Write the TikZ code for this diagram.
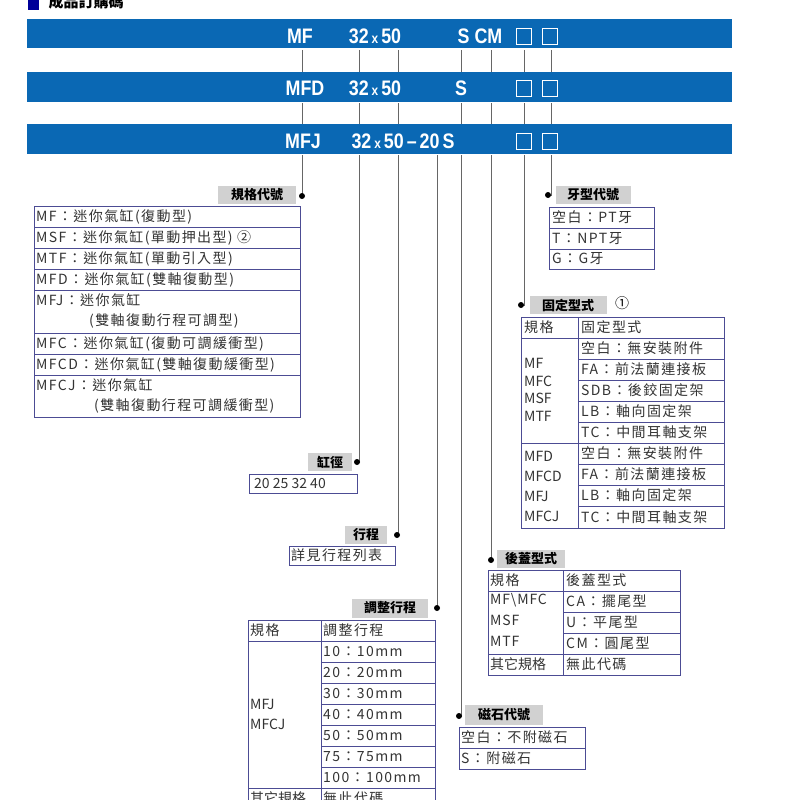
\documentclass[tikz,border=0pt]{standalone}
\usepackage{fontspec}
\setmainfont{Noto Sans CJK TC}
\setsansfont{Liberation Sans}
\begin{document}
\begin{tikzpicture}[x=1pt,y=-1pt,
  ln/.style={draw=black!60,line width=0.9pt},
  lbl/.style={fill=black!18,inner sep=1pt,font=\bfseries\fontsize{13}{13}\selectfont,anchor=center},
  cell/.style={draw=blue!40!black!70,line width=0.8pt},
  tx/.style={font=\fontsize{14}{14}\selectfont\addfontfeatures{LetterSpace=10},text=black!80,anchor=west,inner sep=1pt,align=left},
  bt/.style={font=\sffamily\bfseries\fontsize{21}{21}\selectfont,text=white,anchor=center,inner sep=0pt,xscale=0.85},
  dotc/.style={circle,fill=black,inner sep=0pt,minimum size=6pt}]
\definecolor{barc}{HTML}{0A68B4}
\useasboundingbox (0,0) rectangle (800,800);
\fill[blue!60!black] (28,-2) rectangle (39,10);
\node[anchor=west,font=\bfseries\fontsize{15}{15}\selectfont] (title) at (45,2) {成品訂購碼};
% bars
\foreach \ya/\yb in {19/49,72/102,124/154}{\fill[barc] (27,\ya) rectangle (732,\yb); \draw[white,line width=1pt] (27,\yb) -- (732,\yb);}
\node[bt] (t1a) at (300,36) {MF};
\node[bt] (t1b) at (375,36) {32\,{\fontsize{14}{14}\selectfont x}\,50};
\node[bt] (t1c) at (480,36) {S CM};
\node[bt] (t2a) at (305,88) {MFD};
\node[bt] (t2b) at (375,88) {32\,{\fontsize{14}{14}\selectfont x}\,50};
\node[bt] (t2c) at (461,88) {S};
\node[bt] (t3a) at (303,141) {MFJ};
\node[bt] (t3b) at (403,141) {32\,{\fontsize{14}{14}\selectfont x}\,50\,--\,20\,S};
\foreach \y in {36,88,141}{\draw[white,line width=0.7pt] (516,\y-8) rectangle (531,\y+8); \draw[white,line width=0.7pt] (542,\y-8) rectangle (557,\y+8);}
% connectors between bars
\foreach \x in {302,359,398,461,491,524,551}{\draw[ln] (\x,50) -- (\x,72); \draw[ln] (\x,103) -- (\x,124);}
% below bar3
\coordinate (c1) at (302,196); \coordinate (c2) at (357,462); \coordinate (c3) at (397,535);
\coordinate (c4) at (437,608); \coordinate (c5) at (459,716); \coordinate (c6) at (491,560);
\coordinate (c7) at (521,305); \coordinate (c8) at (548,195);
\draw[ln] (302,155) -- (c1); \draw[ln] (359,155) -- (359,462) -- (c2);
\draw[ln] (398,155) -- (398,535) -- (c3); \draw[ln] (437,155) -- (c4);
\draw[ln] (461,155) -- (461,716) -- (c5); \draw[ln] (491,155) -- (c6);
\draw[ln] (524,155) -- (524,305) -- (c7); \draw[ln] (551,155) -- (551,195) -- (c8);
\foreach \c in {c1,c2,c3,c4,c5,c6,c7,c8}{\node[dotc] at (\c) {};}
% 規格代號
\node[lbl,minimum width=78pt,minimum height=18pt] (l1) at (257,195) {規格代號};
\draw[cell] (34,206) rectangle (300,417);
\foreach \y in {227,248,269,290,333,354,375}{\draw[cell] (34,\y) -- (300,\y);}
\node[tx] (r1) at (35,216.5) {MF：迷你氣缸(復動型)};
\node[tx] (r2) at (35,237.5) {MSF：迷你氣缸(單動押出型) ②};
\node[tx] (r3) at (35,258.5) {MTF：迷你氣缸(單動引入型)};
\node[tx] (r4) at (35,279.5) {MFD：迷你氣缸(雙軸復動型)};
\node[tx] (r5) at (35,300) {MFJ：迷你氣缸};
\node[tx] (r5b) at (88,321) {(雙軸復動行程可調型)};
\node[tx] (r6) at (35,343.5) {MFC：迷你氣缸(復動可調緩衝型)};
\node[tx] (r7) at (35,364.5) {MFCD：迷你氣缸(雙軸復動緩衝型)};
\node[tx] (r8) at (35,385) {MFCJ：迷你氣缸};
\node[tx] (r8b) at (93,406) {(雙軸復動行程可調緩衝型)};
% 牙型代號
\node[lbl,minimum width=75pt,minimum height=18pt] (l2) at (593,195) {牙型代號};
\draw[cell] (549,207) rectangle (654,269);
\foreach \y in {228,249}{\draw[cell] (549,\y) -- (654,\y);}
\node[tx] at (551,217.5) {空白：PT牙};
\node[tx] at (551,238.5) {T：NPT牙};
\node[tx] at (551,259) {G：G牙};
% 固定型式
\node[lbl,minimum width=77pt,minimum height=18pt] (l3) at (568,305) {固定型式};
\node[font=\fontsize{14}{14}\selectfont] (l3n) at (622,303) {①};
\draw[cell] (521,317) rectangle (724,528);
\draw[cell] (578,317) -- (578,528);
\draw[cell] (521,338) -- (724,338); \draw[cell] (521,443) -- (724,443);
\foreach \y in {359,380,401,422,464,485,506}{\draw[cell] (578,\y) -- (724,\y);}
\node[tx] at (523,327.5) {規格};
\node[tx] at (580,327.5) {固定型式};
\node[tx,font=\fontsize{14}{17.5}\selectfont] at (523,390) {MF\\MFC\\MSF\\MTF};
\node[tx,font=\fontsize{14}{20}\selectfont] at (523,486) {MFD\\MFCD\\MFJ\\MFCJ};
\node[tx] at (580,348.5) {空白：無安裝附件};
\node[tx] at (580,369.5) {FA：前法蘭連接板};
\node[tx] at (580,390.5) {SDB：後鉸固定架};
\node[tx] at (580,411.5) {LB：軸向固定架};
\node[tx] at (580,432.5) {TC：中間耳軸支架};
\node[tx] at (580,453.5) {空白：無安裝附件};
\node[tx] at (580,474.5) {FA：前法蘭連接板};
\node[tx] at (580,495.5) {LB：軸向固定架};
\node[tx] at (580,517) {TC：中間耳軸支架};
% 缸徑
\node[lbl,minimum width=44pt,minimum height=18pt] (l4) at (330,462) {缸徑};
\draw[cell] (249,474) rectangle (357,493);
\node[tx,font=\fontsize{14}{14}\selectfont] at (253,483.5) {20 25 32 40};
% 行程
\node[lbl,minimum width=42pt,minimum height=18pt] (l5) at (366,535) {行程};
\draw[cell] (289,546) rectangle (395,565);
\node[tx] at (290,555.5) {詳見行程列表};
% 後蓋型式
\node[lbl,minimum width=68pt,minimum height=18pt] (l6) at (531,559) {後蓋型式};
\draw[cell] (488,570) rectangle (680,675); \draw[cell] (563,570) -- (563,675);
\draw[cell] (488,591) -- (680,591); \draw[cell] (488,654) -- (680,654);
\foreach \y in {612,633}{\draw[cell] (563,\y) -- (680,\y);}
\node[tx] at (489,580.5) {規格};
\node[tx] at (565,580.5) {後蓋型式};
\node[tx,font=\fontsize{14}{21}\selectfont\addfontfeatures{LetterSpace=6}] at (489,620) {MF\textbackslash MFC\\MSF\\MTF};
\node[tx] at (565,601.5) {CA：擺尾型};
\node[tx] at (565,622.5) {U：平尾型};
\node[tx] at (565,643.5) {CM：圓尾型};
\node[tx,font=\fontsize{14}{14}\selectfont] at (489,664.5) {其它規格};
\node[tx] at (565,664.5) {無此代碼};
% 調整行程
\node[lbl,minimum width=76pt,minimum height=19pt] (l7) at (390,608) {調整行程};
\draw[cell] (248,620) rectangle (435,810); \draw[cell] (321,620) -- (321,810);
\draw[cell] (248,641) -- (435,641); \draw[cell] (248,788) -- (435,788);
\foreach \y in {662,683,704,725,746,767}{\draw[cell] (321,\y) -- (435,\y);}
\node[tx] at (249,630.5) {規格};
\node[tx] at (322,630.5) {調整行程};
\node[tx,font=\fontsize{14}{20}\selectfont] at (249,714) {MFJ\\MFCJ};
\node[tx] at (322,651.5) {10：10mm};
\node[tx] at (322,672.5) {20：20mm};
\node[tx] at (322,693.5) {30：30mm};
\node[tx] at (322,714.5) {40：40mm};
\node[tx] at (322,735.5) {50：50mm};
\node[tx] at (322,756.5) {75：75mm};
\node[tx] at (322,777.5) {100：100mm};
\node[tx,font=\fontsize{14}{14}\selectfont] at (249,798) {其它規格};
\node[tx] at (322,798) {無此代碼};
% 磁石代號
\node[lbl,minimum width=78pt,minimum height=20pt] (l8) at (504,715) {磁石代號};
\draw[cell] (459,727) rectangle (585,769); \draw[cell] (459,748) -- (585,748);
\node[tx] at (460,737.5) {空白：不附磁石};
\node[tx] at (460,758.5) {S：附磁石};
\end{tikzpicture}
\end{document}
